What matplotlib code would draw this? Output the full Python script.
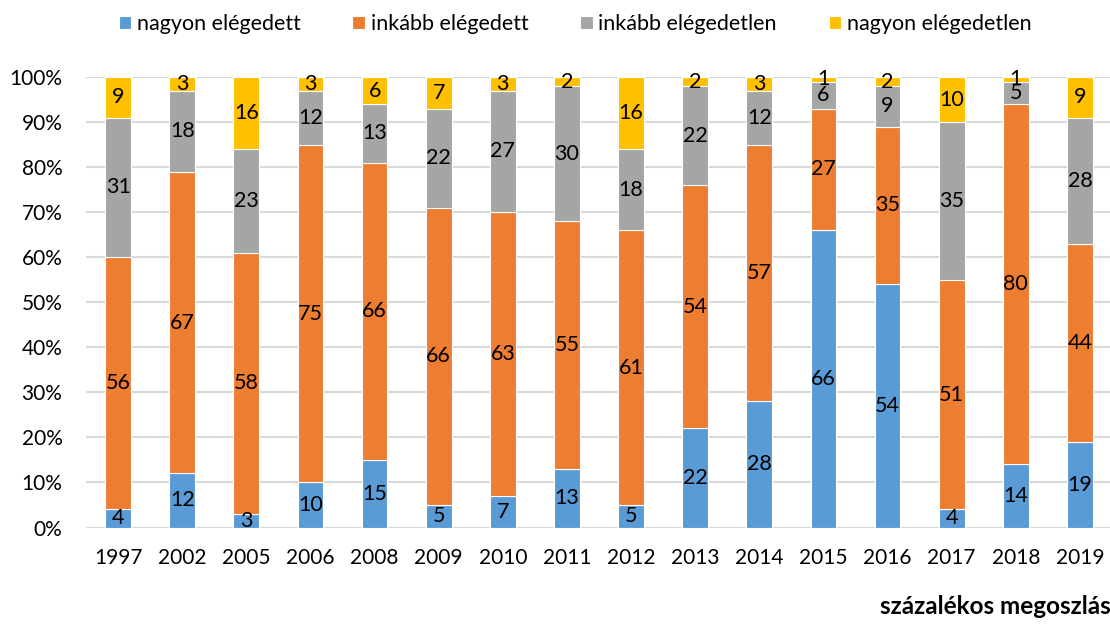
import matplotlib
matplotlib.use("Agg")
import matplotlib.pyplot as plt
import numpy as np

years = ["1997", "2002", "2005", "2006", "2008", "2009", "2010", "2011",
         "2012", "2013", "2014", "2015", "2016", "2017", "2018", "2019"]
nagyon_elegedett = [4, 12, 3, 10, 15, 5, 7, 13, 5, 22, 28, 66, 54, 4, 14, 19]
inkabb_elegedett = [56, 67, 58, 75, 66, 66, 63, 55, 61, 54, 57, 27, 35, 51, 80, 44]
inkabb_elegedetlen = [31, 18, 23, 12, 13, 22, 27, 30, 18, 22, 12, 6, 9, 35, 5, 28]
nagyon_elegedetlen = [9, 3, 16, 3, 6, 7, 3, 2, 16, 2, 3, 1, 2, 10, 1, 9]

series_names = ["nagyon elégedett", "inkább elégedett", "inkább elégedetlen", "nagyon elégedetlen"]
series = [nagyon_elegedett, inkabb_elegedett, inkabb_elegedetlen, nagyon_elegedetlen]
colors = ["#5B9BD5", "#ED7D31", "#A5A5A5", "#FFC000"]

plt.rcParams['font.family'] = ['Lato', 'DejaVu Sans']

W, H = 1110, 624
fig = plt.figure(figsize=(W / 100, H / 100), dpi=100)
left, right = 86, 1112
top, bottom = 77, 527.5
ax = fig.add_axes([left / W, 1 - bottom / H, (right - left) / W, (bottom - top) / H])

x = np.arange(len(years))
base = np.zeros(len(years))
handles = []
for name, vals, c in zip(series_names, series, colors):
    vals = np.array(vals, dtype=float)
    b = ax.bar(x, vals, bottom=base, width=0.4, color=c, edgecolor="white",
               linewidth=0.8, label=name, zorder=3)
    handles.append(b)
    for xi, v, b0 in zip(x, vals, base):
        ax.text(xi, b0 + v / 2, f"{int(v)}", ha="center", va="center",
                fontsize=15.5, color="black", zorder=4)
    base = base + vals

ax.set_xlim(-0.5, len(years) - 0.5)
ax.set_ylim(0, 100)
ax.set_yticks(np.arange(0, 101, 10))
ax.set_yticklabels([f"{v}%" for v in range(0, 101, 10)])
ax.set_xticks(x)
ax.set_xticklabels(years)
ax.tick_params(axis="both", length=0, labelsize=15, colors="black")
ax.tick_params(axis="y", pad=17)
ax.tick_params(axis="x", pad=15)
ax.yaxis.grid(True, color="#D9D9D9", linewidth=1.5, zorder=0)
ax.set_axisbelow(True)
for s in ax.spines.values():
    s.set_visible(False)

fig.legend(handles=handles, labels=series_names, loc="center",
           bbox_to_anchor=(0.518, 1 - 24 / H), ncol=4, frameon=False,
           fontsize=15.5, handlelength=0.6, handleheight=0.6,
           handletextpad=0.25, columnspacing=2.4)

fig.text(880 / W, 1 - 607 / H, "százalékos megoszlás", ha="left", va="center",
         fontsize=17.5, fontweight="bold", color="black")

fig.savefig("out.png", dpi=100)
